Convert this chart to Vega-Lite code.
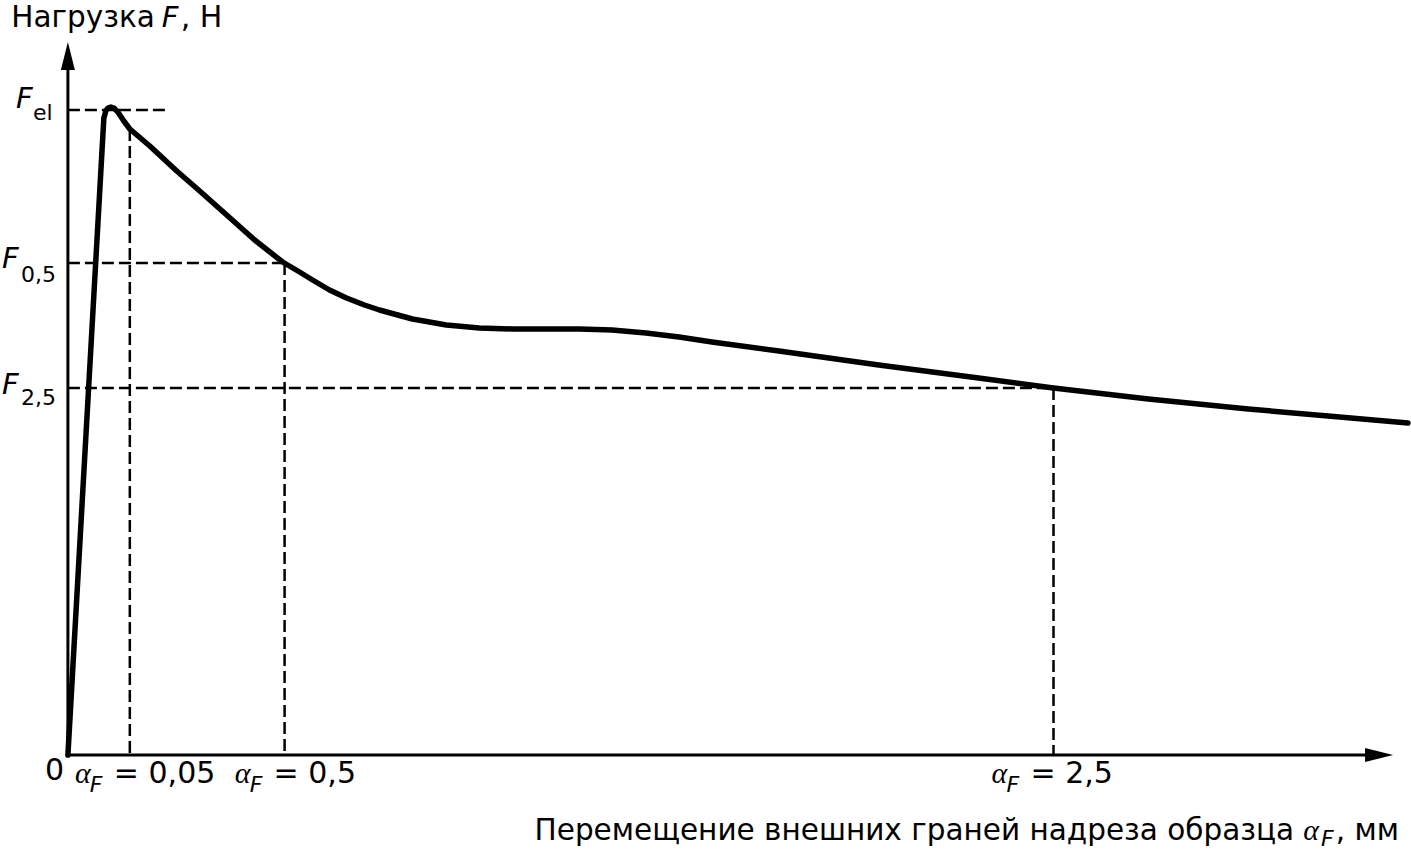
{
  "$schema": "https://vega.github.io/schema/vega-lite/v6.json",
  "width": 1411,
  "height": 851,
  "padding": 0,
  "autosize": {"type": "fit", "contains": "padding"},
  "background": "white",
  "config": {"view": {"stroke": null}},
  "datasets": {
    "curve": [
      {"d": 0, "f": 0}, {"d": 36, "f": 637}, {"d": 38, "f": 644}, {"d": 40, "f": 647},
      {"d": 43, "f": 648}, {"d": 46, "f": 647}, {"d": 50, "f": 643}, {"d": 56, "f": 634}, {"d": 62, "f": 626},
      {"d": 82, "f": 609}, {"d": 109, "f": 584}, {"d": 132, "f": 564}, {"d": 159, "f": 540},
      {"d": 187, "f": 515}, {"d": 215, "f": 493}, {"d": 232, "f": 483}, {"d": 245, "f": 475},
      {"d": 262, "f": 465}, {"d": 279, "f": 457}, {"d": 297, "f": 450}, {"d": 312, "f": 445},
      {"d": 345, "f": 436}, {"d": 379, "f": 430}, {"d": 412, "f": 427}, {"d": 445, "f": 426},
      {"d": 479, "f": 426}, {"d": 512, "f": 426}, {"d": 545, "f": 425}, {"d": 579, "f": 422},
      {"d": 612, "f": 418}, {"d": 645, "f": 413}, {"d": 712, "f": 404}, {"d": 812, "f": 390},
      {"d": 912, "f": 377}, {"d": 987, "f": 367}, {"d": 1082, "f": 356}, {"d": 1182, "f": 346},
      {"d": 1262, "f": 339}, {"d": 1342, "f": 332}
    ],
    "guides": [
      {"d": 0, "f": 645, "d2": 100, "f2": 645},
      {"d": 62, "f": 626, "d2": 62, "f2": 0},
      {"d": 0, "f": 492, "d2": 217, "f2": 492},
      {"d": 217, "f": 492, "d2": 217, "f2": 0},
      {"d": 0, "f": 367, "d2": 987, "f2": 367},
      {"d": 987, "f": 367, "d2": 987, "f2": 0}
    ],
    "axes": [
      {"d": 0, "f": 0, "d2": 0, "f2": 690},
      {"d": 0, "f": 0, "d2": 1305, "f2": 0}
    ],
    "arrowUp": [{"d": 0, "f": 699}],
    "arrowRight": [{"d": 1313, "f": 0}],
    "plainLeft": [
      {"t": ", Н", "d": 113, "f": 728},
      {"t": "0", "d": -23, "f": -25},
      {"t": "= 0,05", "d": 46, "f": -28},
      {"t": "= 0,5", "d": 206, "f": -28},
      {"t": "= 2,5", "d": 964, "f": -28}
    ],
    "plainRight": [
      {"t": "Нагрузка", "d": 87, "f": 728},
      {"t": "Перемещение внешних граней надреза образца", "d": 1228, "f": -85},
      {"t": ", мм", "d": 1333, "f": -85}
    ],
    "bigF": [
      {"t": "F", "d": 94, "f": 728},
      {"t": "F", "d": -52, "f": 647},
      {"t": "F", "d": -66, "f": 487},
      {"t": "F", "d": -66, "f": 361}
    ],
    "subs": [
      {"t": "el", "d": -35, "f": 635},
      {"t": "0,5", "d": -47, "f": 473},
      {"t": "2,5", "d": -47, "f": 350}
    ],
    "alpha": [
      {"t": "α", "d": 7, "f": -28},
      {"t": "α", "d": 167, "f": -28},
      {"t": "α", "d": 925, "f": -28},
      {"t": "α", "d": 1237, "f": -85}
    ],
    "subF": [
      {"t": "F", "d": 22, "f": -37},
      {"t": "F", "d": 182, "f": -37},
      {"t": "F", "d": 940, "f": -37},
      {"t": "F", "d": 1255, "f": -91}
    ]
  },
  "encoding": {
    "x": {"field": "d", "type": "quantitative", "axis": null, "scale": {"domain": [-68, 1343], "nice": false, "zero": false}},
    "y": {"field": "f", "type": "quantitative", "axis": null, "scale": {"domain": [-96, 755], "nice": false, "zero": false}}
  },
  "layer": [
    {
      "data": {"name": "guides"},
      "mark": {"type": "rule", "color": "black", "strokeWidth": 2.5, "strokeDash": [12, 5]},
      "encoding": {"x2": {"field": "d2"}, "y2": {"field": "f2"}}
    },
    {
      "data": {"name": "axes"},
      "mark": {"type": "rule", "color": "black", "strokeWidth": 3},
      "encoding": {"x2": {"field": "d2"}, "y2": {"field": "f2"}}
    },
    {
      "data": {"name": "arrowUp"},
      "mark": {"type": "point", "shape": "M0,-1L0.5,1L-0.5,1Z", "size": 784, "filled": true, "color": "black", "opacity": 1}
    },
    {
      "data": {"name": "arrowRight"},
      "mark": {"type": "point", "shape": "M1,0L-1,-0.5L-1,0.5Z", "size": 784, "filled": true, "color": "black", "opacity": 1}
    },
    {
      "data": {"name": "curve"},
      "mark": {"type": "line", "color": "black", "strokeWidth": 5.5, "interpolate": "linear", "strokeJoin": "round", "strokeCap": "round"},
      "encoding": {"order": {"field": "d", "type": "quantitative"}}
    },
    {
      "data": {"name": "plainLeft"},
      "mark": {"type": "text", "font": "DejaVu Sans", "fontSize": 30, "align": "left", "baseline": "alphabetic", "color": "black"},
      "encoding": {"text": {"field": "t"}}
    },
    {
      "data": {"name": "plainRight"},
      "mark": {"type": "text", "font": "DejaVu Sans", "fontSize": 29.5, "align": "right", "baseline": "alphabetic", "color": "black"},
      "encoding": {"text": {"field": "t"}}
    },
    {
      "data": {"name": "bigF"},
      "mark": {"type": "text", "font": "DejaVu Sans", "fontSize": 29, "fontStyle": "italic", "align": "left", "baseline": "alphabetic", "color": "black"},
      "encoding": {"text": {"field": "t"}}
    },
    {
      "data": {"name": "subs"},
      "mark": {"type": "text", "font": "DejaVu Sans", "fontSize": 22, "align": "left", "baseline": "alphabetic", "color": "black"},
      "encoding": {"text": {"field": "t"}}
    },
    {
      "data": {"name": "alpha"},
      "mark": {"type": "text", "font": "Liberation Serif", "fontSize": 30, "fontStyle": "italic", "align": "left", "baseline": "alphabetic", "color": "black"},
      "encoding": {"text": {"field": "t"}}
    },
    {
      "data": {"name": "subF"},
      "mark": {"type": "text", "font": "DejaVu Sans", "fontSize": 22, "fontStyle": "italic", "align": "left", "baseline": "alphabetic", "color": "black"},
      "encoding": {"text": {"field": "t"}}
    }
  ]
}
